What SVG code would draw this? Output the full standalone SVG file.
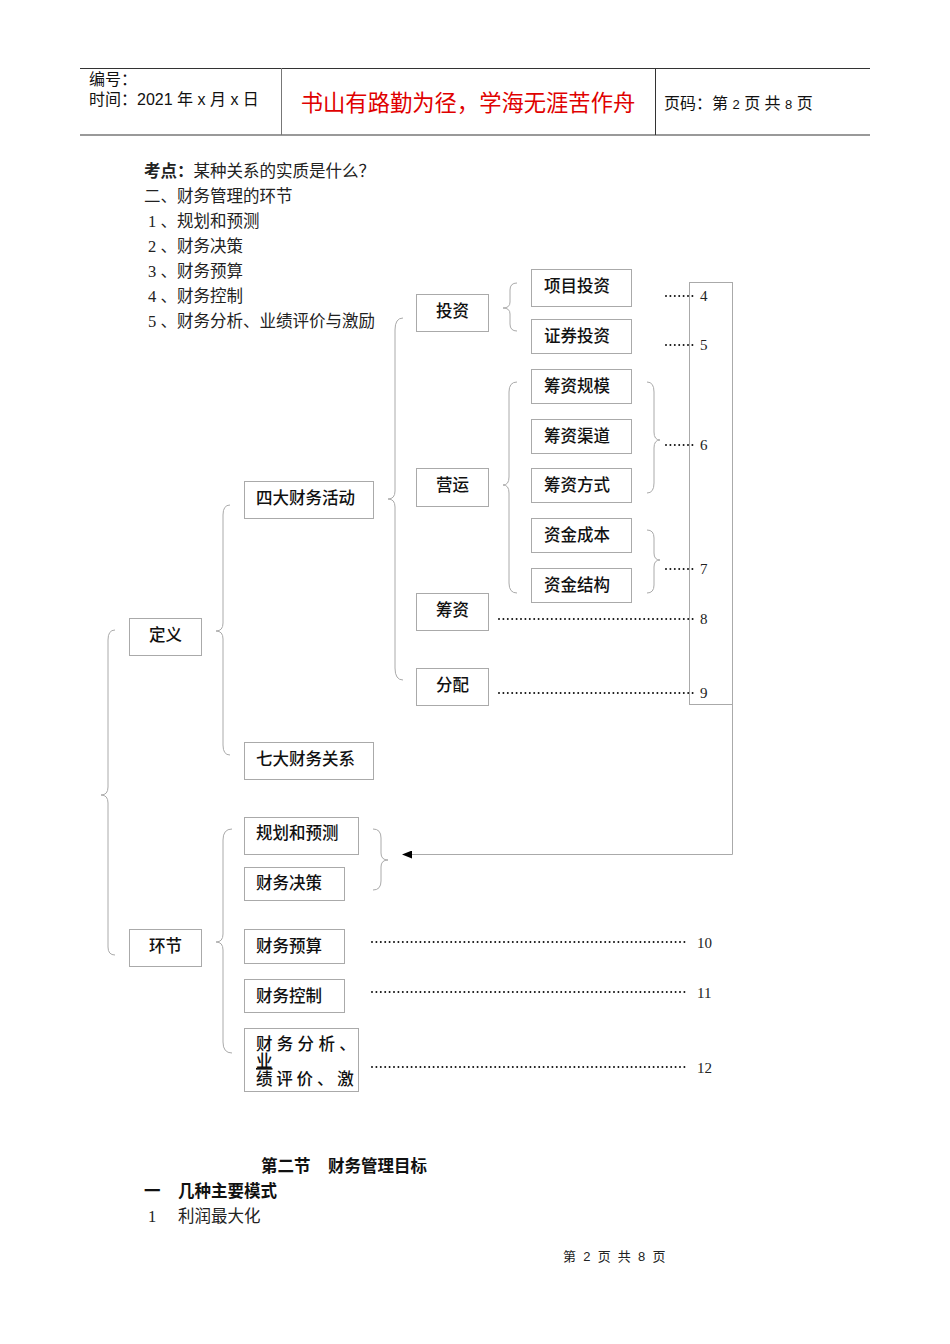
<svg xmlns="http://www.w3.org/2000/svg" width="950" height="1344" viewBox="0 0 950 1344">
<style>
.t{font-family:"Liberation Serif","Noto Sans CJK SC",serif;font-size:16.5px;fill:#222}
.h{font-family:"Liberation Sans","Noto Sans CJK SC",sans-serif;font-size:16px;fill:#111}
.x{font-family:"Liberation Sans","Noto Sans CJK SC",sans-serif;font-size:16.5px;fill:#111;font-weight:500}
.b{font-family:"Liberation Sans","Noto Sans CJK SC",sans-serif;font-size:16.5px;fill:#111;font-weight:bold}
.n{font-family:"Liberation Serif",serif;font-size:15px;fill:#222}
.box{fill:#fff;stroke:#aaa;stroke-width:1}
.br{fill:none;stroke:#aaa;stroke-width:1}
.dot{fill:none;stroke:#111;stroke-width:2;stroke-dasharray:0 4.4;stroke-linecap:round}
</style>
<defs>
<marker id="ah" markerWidth="10" markerHeight="8" refX="9" refY="4" orient="auto" markerUnits="userSpaceOnUse">
<path d="M0,0 L10,4 L0,8 Z" fill="#000"/>
</marker>
</defs>
<rect width="950" height="1344" fill="#fff"/>
<g id="header">
<line x1="80" y1="68.5" x2="870" y2="68.5" stroke="#333" stroke-width="1"/>
<line x1="80" y1="135" x2="870" y2="135" stroke="#777" stroke-width="1.5"/>
<line x1="281.5" y1="68" x2="281.5" y2="135" stroke="#777" stroke-width="1"/>
<line x1="655.5" y1="68" x2="655.5" y2="135" stroke="#333" stroke-width="1"/>
<text class="h" x="89" y="85">编号：</text>
<text class="h" x="89" y="105">时间：2021 年 x 月 x 日</text>
<text x="468" y="111" text-anchor="middle" font-family="Liberation Sans,'Noto Sans CJK SC',sans-serif" font-size="22.3" fill="#e00000">书山有路勤为径，学海无涯苦作舟</text>
<text class="h" x="664" y="109">页码：第 <tspan font-size="13">2</tspan> 页  共 <tspan font-size="13">8</tspan> 页</text>
</g>
<g id="intro">
<text class="t" x="144" y="177"><tspan font-weight="bold">考点：</tspan>某种关系的实质是什么？</text>
<text class="t" x="144" y="202">二、财务管理的环节</text>
<text class="t" x="148" y="227">1 、规划和预测</text>
<text class="t" x="148" y="252">2 、财务决策</text>
<text class="t" x="148" y="277">3 、财务预算</text>
<text class="t" x="148" y="302">4 、财务控制</text>
<text class="t" x="148" y="327">5 、财务分析、业绩评价与激励</text>
</g>
<g id="connectors">
<path class="br" d="M115,630 Q108,630 108,640 L108,787 Q108,795 101,795 Q108,795 108,803 L108,947 Q108,955 115,955"/>
<path class="br" d="M230,505 Q223,505 223,515 L223,623 Q223,631 216,631 Q223,631 223,639 L223,745 Q223,755 230,755"/>
<path class="br" d="M403,318 Q395,318 395,330 L395,491 Q395,499 388,499 Q395,499 395,507 L395,668 Q395,680 403,680"/>
<path class="br" d="M517,283 Q510,283 510,290 L510,302 Q510,308 503,308 Q510,308 510,314 L510,324 Q510,331 517,331"/>
<path class="br" d="M517,382 Q509,382 509,392 L509,477 Q509,485 503,485 Q509,485 509,493 L509,583 Q509,593 517,593"/>
<path class="br" d="M647,382 Q654,382 654,392 L654,432 Q654,440 660,440 Q654,440 654,448 L654,483 Q654,493 647,493"/>
<path class="br" d="M647,530 Q654,530 654,538 L654,553 Q654,560 660,560 Q654,560 654,567 L654,585 Q654,593 647,593"/>
<path class="br" d="M232,829 Q223,829 223,840 L223,934 Q223,942 216,942 Q223,942 223,950 L223,1042 Q223,1053 232,1053"/>
<path class="br" d="M373,829 Q381,829 381,838 L381,853 Q381,860 388,860 Q381,860 381,867 L381,881 Q381,890 373,890"/>
<rect class="br" x="689.5" y="282.5" width="43" height="422"/>
<path fill="none" stroke="#aaa" stroke-width="1" d="M732.5,705 L732.5,854.5 L403,854.5" marker-end="url(#ah)"/>
<line class="dot" x1="666" y1="296" x2="693" y2="296"/>
<line class="dot" x1="666" y1="345" x2="693" y2="345"/>
<line class="dot" x1="666" y1="445" x2="693" y2="445"/>
<line class="dot" x1="666" y1="569" x2="693" y2="569"/>
<line class="dot" x1="499" y1="619" x2="693" y2="619"/>
<line class="dot" x1="499" y1="693" x2="693" y2="693"/>
<line class="dot" x1="372" y1="942" x2="686" y2="942"/>
<line class="dot" x1="372" y1="992" x2="686" y2="992"/>
<line class="dot" x1="372" y1="1067" x2="686" y2="1067"/>
</g>
<g id="numbers">
<text class="n" x="700" y="301">4</text>
<text class="n" x="700" y="350">5</text>
<text class="n" x="700" y="450">6</text>
<text class="n" x="700" y="574">7</text>
<text class="n" x="700" y="624">8</text>
<text class="n" x="700" y="698">9</text>
<text class="n" x="697" y="948">10</text>
<text class="n" x="697" y="998">11</text>
<text class="n" x="697" y="1073">12</text>
</g>
<g id="n-touzi"><rect class="box" x="416.5" y="294.5" width="72" height="37"/><text class="x" x="436" y="317">投资</text></g>
<g id="n-xiangmu"><rect class="box" x="531.5" y="269.5" width="100" height="37"/><text class="x" x="544" y="292">项目投资</text></g>
<g id="n-zhengquan"><rect class="box" x="531.5" y="319.5" width="100" height="34"/><text class="x" x="544" y="342">证券投资</text></g>
<g id="n-guimo"><rect class="box" x="531.5" y="369.5" width="100" height="34"/><text class="x" x="544" y="392">筹资规模</text></g>
<g id="n-qudao"><rect class="box" x="531.5" y="419.5" width="100" height="34"/><text class="x" x="544" y="442">筹资渠道</text></g>
<g id="n-fangshi"><rect class="box" x="531.5" y="468.5" width="100" height="34"/><text class="x" x="544" y="491">筹资方式</text></g>
<g id="n-chengben"><rect class="box" x="531.5" y="518.5" width="100" height="34"/><text class="x" x="544" y="541">资金成本</text></g>
<g id="n-jiegou"><rect class="box" x="531.5" y="568.5" width="100" height="34"/><text class="x" x="544" y="591">资金结构</text></g>
<g id="n-yingyun"><rect class="box" x="416.5" y="468.5" width="72" height="38"/><text class="x" x="436" y="491">营运</text></g>
<g id="n-chouzi"><rect class="box" x="416.5" y="593.5" width="72" height="37"/><text class="x" x="436" y="616">筹资</text></g>
<g id="n-fenpei"><rect class="box" x="416.5" y="668.5" width="72" height="37"/><text class="x" x="436" y="691">分配</text></g>
<g id="n-sida"><rect class="box" x="244.5" y="481.5" width="129" height="37"/><text class="x" x="256" y="504">四大财务活动</text></g>
<g id="n-qida"><rect class="box" x="244.5" y="742.5" width="129" height="37"/><text class="x" x="256" y="765">七大财务关系</text></g>
<g id="n-dingyi"><rect class="box" x="129.5" y="618.5" width="72" height="37"/><text class="x" x="149" y="641">定义</text></g>
<g id="n-huanjie"><rect class="box" x="129.5" y="929.5" width="72" height="37"/><text class="x" x="149" y="952">环节</text></g>
<g id="n-guihua"><rect class="box" x="244.5" y="817.5" width="114" height="37"/><text class="x" x="256" y="839">规划和预测</text></g>
<g id="n-juece"><rect class="box" x="244.5" y="867.5" width="100" height="33"/><text class="x" x="256" y="889">财务决策</text></g>
<g id="n-yusuan"><rect class="box" x="244.5" y="929.5" width="100" height="34"/><text class="x" x="256" y="952">财务预算</text></g>
<g id="n-kongzhi"><rect class="box" x="244.5" y="979.5" width="100" height="33"/><text class="x" x="256" y="1002">财务控制</text></g>
<g id="n-fenxi"><rect class="box" x="244.5" y="1028.5" width="114" height="63"/>
<text class="x" x="256" y="1050" font-size="14.5" letter-spacing="4.3">财务分析、</text>
<text class="x" x="256" y="1067" font-size="14.5" text-decoration="underline">业</text>
<text class="x" x="256" y="1085" font-size="13" letter-spacing="3.8">绩评价、激</text></g>
<g id="outro">
<text class="b" x="261" y="1172">第二节<tspan x="328">财务管理目标</tspan></text>
<text class="b" x="144" y="1197">一<tspan x="178">几种主要模式</tspan></text>
<text class="t" x="148" y="1222">1<tspan x="178">利润最大化</tspan></text>
<text x="563" y="1261" font-family="Liberation Sans,'Noto Sans CJK SC',sans-serif" font-size="13" fill="#222" letter-spacing="1.8">第 2 页 共 8 页</text>
</g>
</svg>
